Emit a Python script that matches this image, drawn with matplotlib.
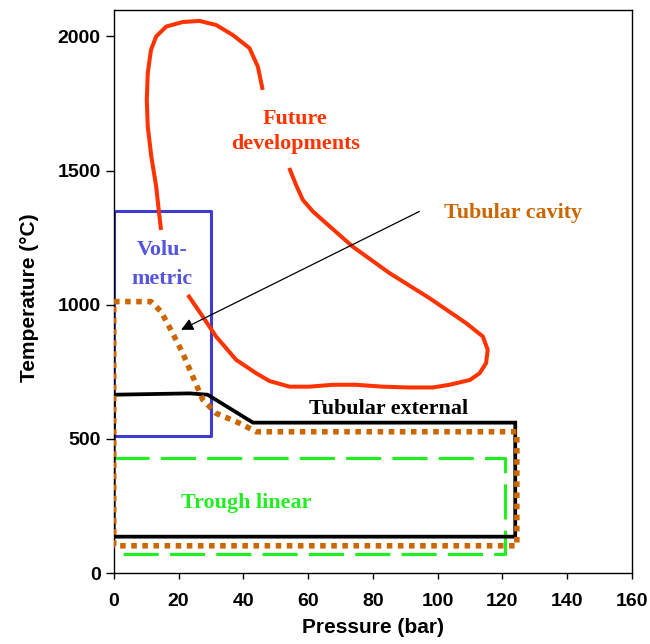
"""Operating windows of CSP receiver types: pressure vs temperature."""
import matplotlib
matplotlib.use("Agg")
import matplotlib.pyplot as plt

# --- data (bar, degC) ---
# "Future developments" outline, drawn in two pieces (gaps under the labels)
future_top_p = [14.6, 14.0, 13.1, 11.6, 10.5, 10.2, 10.5, 11.5, 13.1, 16.2, 21.3, 26.5,
                31.6, 36.7, 41.9, 44.5, 46.0]
future_top_t = [1279, 1342, 1441, 1553, 1665, 1764, 1863, 1950, 2000, 2037, 2054, 2058,
                2043, 2006, 1957, 1888, 1801]
future_loop_p = [54.2, 56.3, 58.4, 61.5, 65.6, 73.8, 85.2, 97.5, 108.8, 114.0, 115.5,
                 115.0, 113.0, 110.0, 103.7, 98.5, 91.3, 83.0, 74.9, 67.6, 60.4, 54.3,
                 48.1, 44.0, 37.8, 31.6, 27.5, 22.9]
future_loop_t = [1510, 1447, 1391, 1348, 1304, 1217, 1118, 1025, 932, 882, 832,
                 783, 745, 720, 702, 692, 692, 695, 702, 702, 695, 695,
                 716, 745, 795, 882, 956, 1037]

volumetric_p = [0, 30, 30, 0, 0]
volumetric_t = [510, 510, 1350, 1350, 510]

cavity_p = [0, 0, 11.5, 14.6, 18.2, 21.3, 24.4, 27.5, 31.6, 38.8, 44.0, 124.5, 124.5, 0]
cavity_t = [102, 1012, 1012, 975, 894, 820, 733, 646, 596, 559, 527, 527, 102, 102]

external_p = [0, 0, 23.4, 29.0, 43.0, 124.0, 124.0, 0]
external_t = [136, 665, 670, 665, 561, 561, 136, 136]

trough_p = [0, 120.7, 120.7, 0]
trough_t = [430, 430, 70, 70]

arrow_tail = (94.4, 1348)
arrow_head = (20.8, 907)

xticks = [0, 20, 40, 60, 80, 100, 120, 140, 160]
yticks = [0, 500, 1000, 1500, 2000]

RED = "#FF3300"
BLUE = "#3C3CD2"
BROWN = "#CC6600"
GREEN = "#22EE22"

fig = plt.figure(figsize=(6.5, 6.44), dpi=100)
ax = fig.add_axes([0.175, 0.110, 0.797, 0.875])

ax.plot(trough_p, trough_t, color=GREEN, lw=2.3, ls=(0, (11, 3.5)), zorder=2)
ax.plot(volumetric_p, volumetric_t, color=BLUE, lw=2.2, zorder=2)
ax.plot(external_p, external_t, color="black", lw=2.7, solid_joinstyle="miter", zorder=3)
ax.plot(cavity_p, cavity_t, color=BROWN, lw=4, ls=(0, (1, 1)),
        dash_capstyle="butt", zorder=4)
for px, ty in [(future_top_p, future_top_t), (future_loop_p, future_loop_t)]:
    ax.plot(px, ty, color=RED, lw=2.9, solid_joinstyle="round",
            solid_capstyle="butt", zorder=2)

ax.annotate("", xy=arrow_head, xytext=arrow_tail,
            arrowprops=dict(arrowstyle="-|>", color="black", lw=0.9,
                            mutation_scale=18, shrinkA=0, shrinkB=0), zorder=5)

serif = dict(family="Liberation Serif", fontweight="bold", fontsize=15.8,
             ha="center", va="center")
ax.text(56, 1645, "Future\ndevelopments", color=RED, linespacing=1.35, **serif)
ax.text(15, 1149, "Volu-\nmetric", color="#5555DD", linespacing=1.6, **serif)
ax.text(123.2, 1343, "Tubular cavity", color=BROWN, **serif)
ax.text(85, 611, "Tubular external", color="black", **serif)
ax.text(40.9, 261, "Trough linear", color=GREEN, **serif)

ax.set_xlim(0, 160)
ax.set_ylim(0, 2100)
ax.set_xticks(xticks)
ax.set_yticks(yticks)
ax.tick_params(direction="out", width=1, labelsize=14)
ax.tick_params(axis="x", length=4, pad=10)
ax.tick_params(axis="y", length=6, pad=3.5)
for lab in ax.get_xticklabels() + ax.get_yticklabels():
    lab.set_fontweight("bold")
    lab.set_family("Liberation Sans")
for s in ax.spines.values():
    s.set_linewidth(1)

ax.set_xlabel("Pressure (bar)", fontsize=15, fontweight="bold",
              family="Liberation Sans", labelpad=6)
ax.set_ylabel("Temperature (°C)", fontsize=15, fontweight="bold",
              family="Liberation Sans")
ax.yaxis.set_label_coords(-0.145, 0.488)

fig.savefig("out.png", dpi=100)
